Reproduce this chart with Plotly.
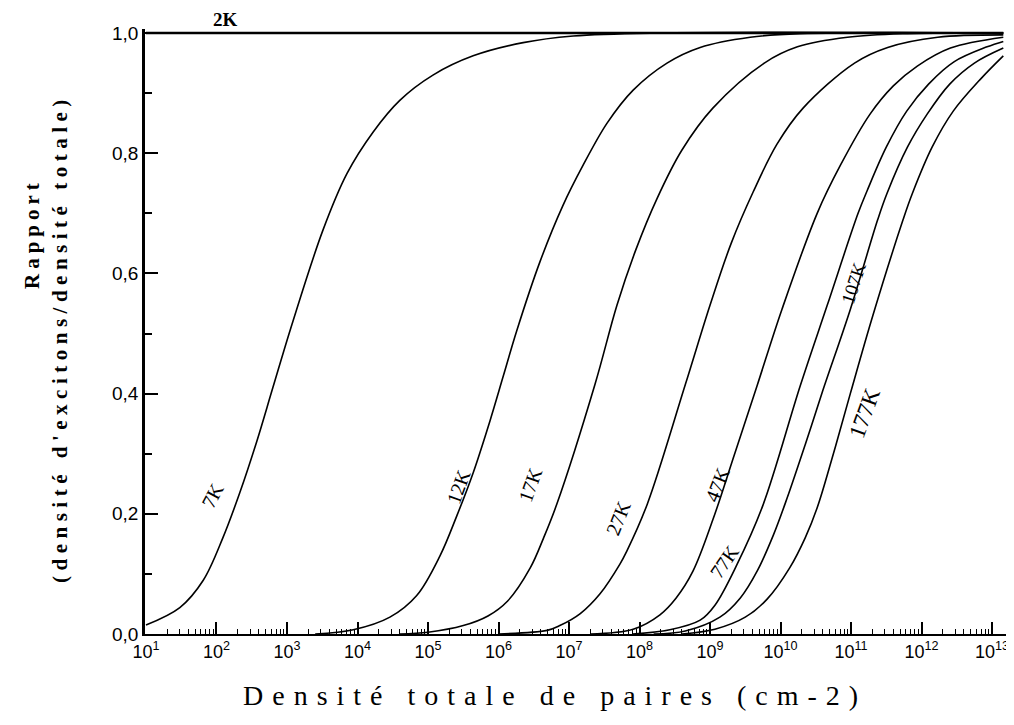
import plotly.graph_objects as go

# ---- data (x as log10 of density in cm-2, y = ratio excitons/total) ----
labels = ["2K", "7K", "12K", "17K", "27K", "47K", "77K", "107K", "177K"]

e_2K = [1.0, 13.16]
y_2K = [1.0, 1.0]

e_7K = [1.0, 1.48, 1.81, 2.09, 2.33, 2.57, 2.80, 3.07, 3.51, 3.85, 4.22, 4.60, 5.07, 5.64, 6.35, 7.06, 8.2, 13.16]
y_7K = [0.015, 0.044, 0.089, 0.160, 0.235, 0.320, 0.410, 0.515, 0.672, 0.766, 0.835, 0.888, 0.930, 0.962, 0.984, 0.995, 1.0, 1.0]

e_12K = [3.4, 3.94, 4.46, 4.84, 5.17, 5.41, 5.64, 5.88, 6.07, 6.26, 6.59, 6.91, 7.20, 7.54, 7.91, 8.39, 8.86, 9.57, 10.28, 13.16]
y_12K = [0.0, 0.007, 0.028, 0.064, 0.130, 0.197, 0.268, 0.355, 0.430, 0.505, 0.620, 0.712, 0.780, 0.850, 0.905, 0.950, 0.976, 0.993, 0.999, 1.0]

e_17K = [4.6, 5.0, 5.5, 5.85, 6.13, 6.45, 6.64, 6.83, 7.37, 7.68, 7.95, 8.25, 8.6, 9.04, 9.77, 10.24, 10.95, 11.8, 13.16]
y_17K = [0.0, 0.003, 0.014, 0.030, 0.055, 0.110, 0.160, 0.217, 0.416, 0.547, 0.640, 0.725, 0.805, 0.875, 0.950, 0.977, 0.993, 0.999, 1.0]

e_27K = [6.0, 6.69, 6.87, 7.16, 7.44, 7.72, 7.82, 8.11, 8.65, 9.0, 9.3, 9.61, 9.95, 10.32, 11.05, 11.52, 12.23, 13.16]
y_27K = [0.0, 0.006, 0.014, 0.034, 0.067, 0.116, 0.138, 0.216, 0.415, 0.547, 0.650, 0.735, 0.815, 0.875, 0.950, 0.976, 0.993, 0.997]

e_47K = [7.3, 7.91, 8.29, 8.52, 8.76, 9.04, 9.35, 9.67, 10.02, 10.52, 10.85, 11.27, 11.6, 11.94, 12.41, 13.16]
y_47K = [0.0, 0.008, 0.032, 0.060, 0.105, 0.190, 0.300, 0.414, 0.540, 0.700, 0.780, 0.865, 0.912, 0.945, 0.975, 0.993]

e_77K = [7.9, 8.43, 8.86, 9.07, 9.38, 9.75, 10.28, 10.66, 11.10, 11.23, 11.5, 11.79, 12.1, 12.46, 12.93, 13.16]
y_77K = [0.0, 0.007, 0.023, 0.048, 0.115, 0.214, 0.413, 0.546, 0.700, 0.738, 0.810, 0.870, 0.915, 0.952, 0.977, 0.986]

e_107K = [8.2, 8.65, 9.14, 9.43, 9.67, 9.9, 10.09, 10.35, 10.60, 10.99, 11.38, 11.51, 11.8, 12.08, 12.4, 12.75, 13.16]
y_107K = [0.0, 0.005, 0.028, 0.060, 0.105, 0.165, 0.225, 0.315, 0.405, 0.540, 0.690, 0.733, 0.810, 0.865, 0.915, 0.950, 0.975]

e_177K = [8.6, 9.07, 9.50, 9.81, 10.13, 10.35, 10.52, 10.75, 10.99, 11.31, 11.74, 11.87, 12.15, 12.45, 12.85, 13.16]
y_177K = [0.0, 0.008, 0.028, 0.058, 0.110, 0.160, 0.210, 0.300, 0.400, 0.530, 0.690, 0.733, 0.810, 0.870, 0.925, 0.962]

x_tick_exps = list(range(1, 14))
y_tick_vals = [0.0, 0.2, 0.4, 0.6, 0.8, 1.0]
y_tick_text = ["0,0", "0,2", "0,4", "0,6", "0,8", "1,0"]

# curve label positions: (log10 x, y, angle, font size)
lab_pos = {
    "7K": (1.95, 0.231, -62, 20),
    "12K": (5.43, 0.245, -70, 20),
    "17K": (6.45, 0.248, -70, 20),
    "27K": (7.70, 0.193, -68, 20),
    "47K": (9.10, 0.248, -68, 20),
    "77K": (9.20, 0.120, -55, 20),
    "107K": (11.03, 0.584, -72, 19),
    "177K": (11.20, 0.368, -70, 23),
}

series = {
    "2K": (e_2K, y_2K), "7K": (e_7K, y_7K), "12K": (e_12K, y_12K),
    "17K": (e_17K, y_17K), "27K": (e_27K, y_27K), "47K": (e_47K, y_47K),
    "77K": (e_77K, y_77K), "107K": (e_107K, y_107K), "177K": (e_177K, y_177K),
}

fig = go.Figure()
for name in labels:
    ex, yy = series[name]
    fig.add_trace(go.Scatter(
        x=[10 ** e for e in ex], y=yy, mode="lines", name=name,
        line=dict(color="black", width=2.6 if name == "2K" else 1.6,
                  shape="spline" if name != "2K" else "linear", smoothing=1.0),
        showlegend=False, hoverinfo="skip"))

serif = "Liberation Serif"
sans = "Liberation Sans"

for name, (lx, ly, ang, sz) in lab_pos.items():
    fig.add_annotation(x=lx, y=ly, xref="x", yref="y", text=name, showarrow=False,
                       textangle=ang, font=dict(family=serif, size=sz, color="black"))

# 2K label sits above the top line (outside the data range -> paper coords)
fig.add_annotation(xref="paper", yref="paper", x=(225 - 145) / 865, y=(634 - 19) / 605,
                   xanchor="center", yanchor="middle", text="<b>2K</b>", showarrow=False,
                   font=dict(family=serif, size=19, color="black"))

minor_vals = [m * 10 ** k for k in range(1, 14) for m in range(2, 10)]

fig.update_layout(
    width=1006, height=717,
    margin=dict(l=137, r=4, t=21, b=91),
    paper_bgcolor="white", plot_bgcolor="white",
    xaxis=dict(
        type="log", range=[0.986, 13.255],
        tickmode="array",
        tickvals=[10 ** k for k in x_tick_exps],
        ticktext=["10<sup>%d</sup>" % k for k in x_tick_exps],
        ticks="inside", ticklen=12, tickwidth=1.5, tickcolor="black",
        showline=True, linewidth=2, linecolor="black",
        showgrid=False, zeroline=False,
        tickfont=dict(family=sans, size=18, color="black"),
        minor=dict(ticks="inside", ticklen=5, tickwidth=1.2, tickcolor="black",
                   tickmode="array", tickvals=minor_vals, showgrid=False),
    ),
    yaxis=dict(
        range=[0, 1.0067],
        tickmode="array", tickvals=y_tick_vals, ticktext=y_tick_text,
        ticks="inside", ticklen=13, tickwidth=2, tickcolor="black",
        showline=True, linewidth=2.5, linecolor="black",
        showgrid=False, zeroline=False,
        tickfont=dict(family=sans, size=19, color="black"),
        minor=dict(ticks="inside", ticklen=7, tickwidth=2, tickcolor="black",
                   dtick=0.1, tick0=0, showgrid=False),
    ),
)

fig.add_annotation(xref="paper", yref="paper", x=(555 - 145) / 865, y=(634 - 695) / 605,
                   xanchor="center", yanchor="middle",
                   text='<span style="letter-spacing:9px">Densité totale de paires (cm-2)</span>',
                   showarrow=False, font=dict(family=serif, size=28, color="black"))
fig.add_annotation(xref="paper", yref="paper", x=(32 - 145) / 865, y=(634 - 234) / 605,
                   xanchor="center", yanchor="middle", textangle=-90,
                   text='<span style="letter-spacing:5px"><b>Rapport</b></span>',
                   showarrow=False, font=dict(family=serif, size=21, color="black"))
fig.add_annotation(xref="paper", yref="paper", x=(60 - 145) / 865, y=(634 - 339) / 605,
                   xanchor="center", yanchor="middle", textangle=-90,
                   text="<span style=\"letter-spacing:5.5px\"><b>(densité d'excitons/densité totale)</b></span>",
                   showarrow=False, font=dict(family=serif, size=21, color="black"))

fig.write_html("out.html")
